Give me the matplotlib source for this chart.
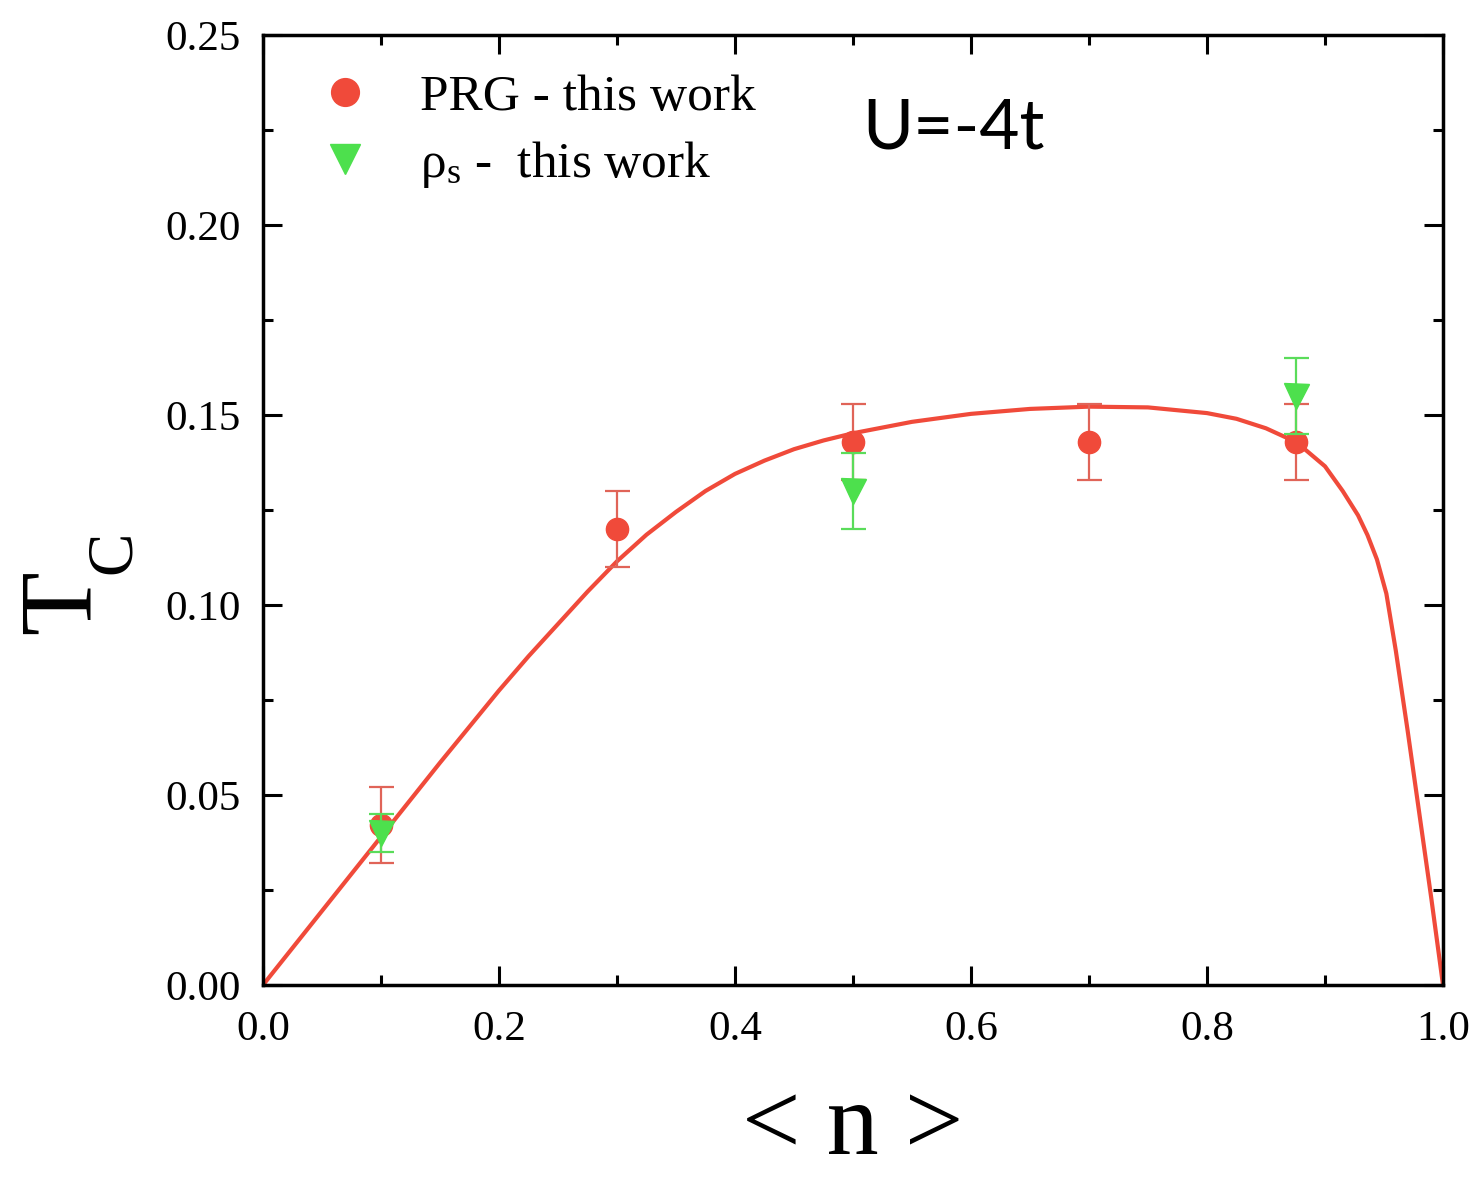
import numpy as np
import matplotlib
matplotlib.use("Agg")
import matplotlib.pyplot as plt
from matplotlib.lines import Line2D
from matplotlib.ticker import MultipleLocator, FormatStrFormatter

plt.rcParams['font.family'] = ['Liberation Serif', 'DejaVu Serif']
plt.rcParams['mathtext.fontset'] = 'stix'

# PRG - this work
prg_n = [0.1, 0.3, 0.5, 0.7, 0.875]
prg_tc = [0.042, 0.120, 0.143, 0.143, 0.143]
prg_err = [0.010, 0.010, 0.010, 0.010, 0.010]

# rho_s - this work
rho_n = [0.1, 0.5, 0.875]
rho_tc = [0.040, 0.130, 0.155]
rho_err = [0.005, 0.010, 0.010]

# red guide curve
curve_n = [0.0, 0.05, 0.10, 0.15, 0.20, 0.225, 0.25, 0.275, 0.30, 0.325,
           0.35, 0.375, 0.40, 0.425, 0.45, 0.475, 0.50, 0.55, 0.60, 0.65,
           0.70, 0.75, 0.80, 0.825, 0.85, 0.876, 0.90, 0.915, 0.928, 0.936,
           0.944, 0.952, 0.96, 0.97, 0.98, 0.99, 1.0]
curve_tc = [0.0, 0.0195, 0.039, 0.0585, 0.0775, 0.0865, 0.0950, 0.1035,
            0.1115, 0.1185, 0.1245, 0.1300, 0.1345, 0.1380, 0.1410, 0.1433,
            0.1452, 0.1482, 0.1503, 0.1516, 0.1522, 0.1520, 0.1505, 0.1490,
            0.1465, 0.1428, 0.1365, 0.1300, 0.1236, 0.1184, 0.1120, 0.1030,
            0.0880, 0.0670, 0.0450, 0.0230, 0.0]

red = '#F04A3A'
green = '#4DE04D'

fig = plt.figure(figsize=(14.8, 11.78), dpi=100)
ax = fig.add_axes([263/1480, 1-985/1178, 1180/1480, 950/1178])

ax.plot(curve_n, curve_tc, color=red, lw=3, zorder=2)

ax.errorbar(prg_n, prg_tc, yerr=prg_err, fmt='o', color=red, ecolor='#E06458',
            elinewidth=1.6, capsize=9, capthick=1.6, markersize=16, zorder=3)
ax.errorbar(rho_n, rho_tc, yerr=rho_err, fmt='v', color=green, ecolor='#5ADC5A',
            elinewidth=1.6, capsize=9, capthick=1.6, markersize=18, zorder=4)

ax.set_xlim(0, 1.0)
ax.set_ylim(0, 0.25)
ax.xaxis.set_major_locator(MultipleLocator(0.2))
ax.xaxis.set_minor_locator(MultipleLocator(0.1))
ax.yaxis.set_major_locator(MultipleLocator(0.05))
ax.yaxis.set_minor_locator(MultipleLocator(0.025))
ax.xaxis.set_major_formatter(FormatStrFormatter('%.1f'))
ax.yaxis.set_major_formatter(FormatStrFormatter('%.2f'))
ax.tick_params(which='both', direction='in', top=True, right=True, width=2.2)
ax.tick_params(which='major', length=14, labelsize=31)
ax.tick_params(which='minor', length=7)
ax.tick_params(axis='x', pad=18)
ax.tick_params(axis='y', pad=16)
for s in ax.spines.values():
    s.set_linewidth(2.5)

# axis labels
fig.text(853/1480, 2/1178, '< n >', fontsize=75, ha='center', va='bottom')
fig.text(112/1480, 1-602/1178, 'T', fontsize=75, rotation=90, ha='right', va='center')
fig.text(144/1480, 1-552/1178, 'C', fontsize=47, rotation=90, ha='right', va='center')

ax.text(0.5076, 0.881, 'U=-4t', fontsize=50, family='Lato', transform=ax.transAxes)

handles = [Line2D([], [], ls='none', marker='o', color=red, markersize=20),
           Line2D([], [], ls='none', marker='v', color=green, markersize=21)]
ax.legend(handles, ['PRG - this work', r'$\mathregular{\rho_s}$ -  this work'],
          loc='upper left', bbox_to_anchor=(0.048, 0.959), frameon=False,
          fontsize=37, handlelength=1.0, handletextpad=0.95, labelspacing=0.36,
          borderpad=0, borderaxespad=0)

fig.savefig('out.png', dpi=100)
